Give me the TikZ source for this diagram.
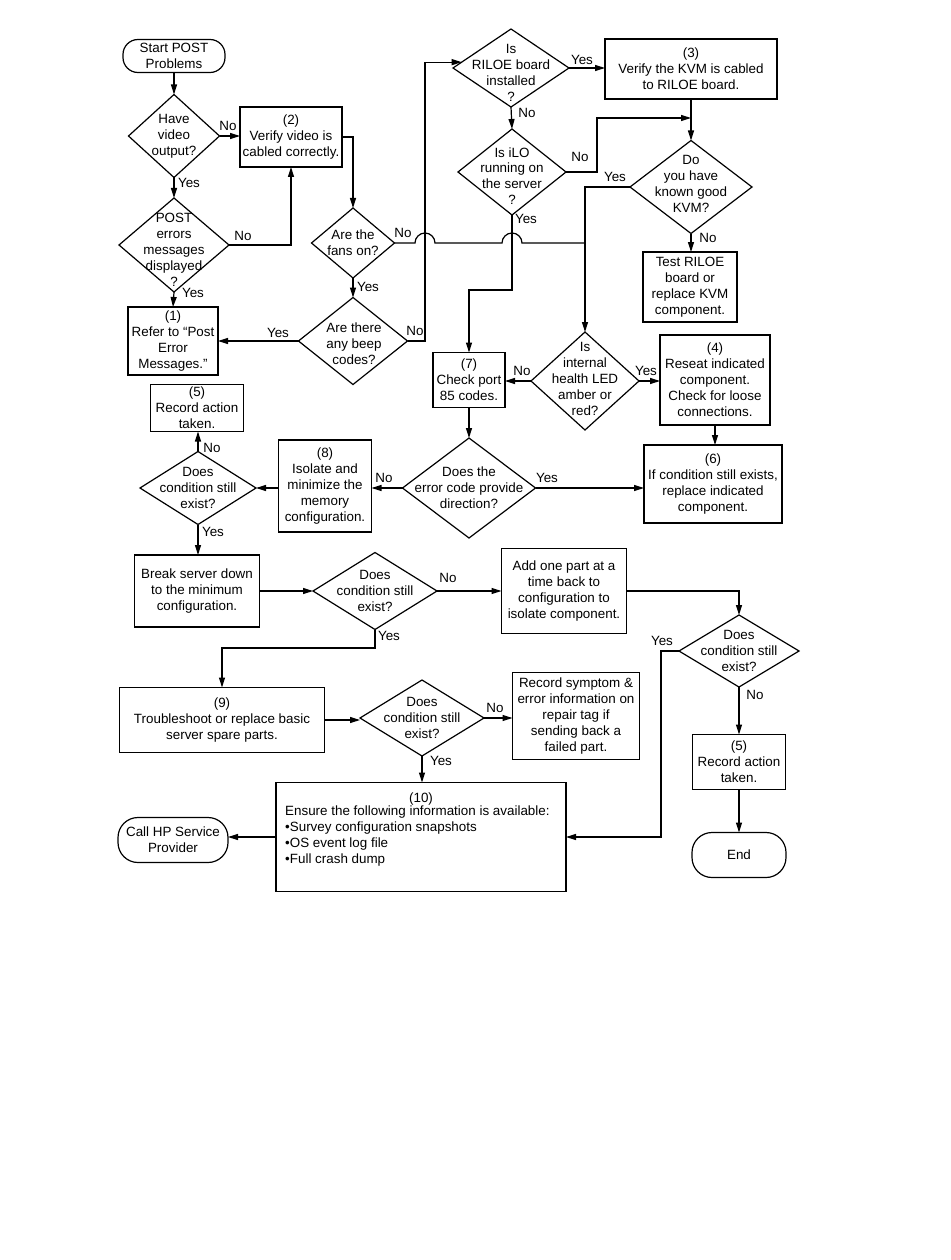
\documentclass[tikz,border=0pt]{standalone}
\usepackage{fontspec}
\setmainfont{Liberation Sans}
\usetikzlibrary{shapes.geometric,arrows.meta,calc}
\begin{document}
\begin{tikzpicture}[x=1pt,y=-1pt,
  font=\fontsize{13.4}{15.9}\selectfont,
  ln/.style={line width=1.2pt, draw=black},
  arr/.style={ln, -{Triangle[length=10pt,width=6pt]}},
  box/.style={draw, rectangle, line width=1.2pt, align=center, inner sep=1pt, outer sep=0pt},
  term/.style={draw, rectangle, line width=1.2pt, align=center, inner sep=1pt, outer sep=0pt},
  dia/.style={draw, diamond, line width=1.2pt, inner sep=0pt, outer sep=0pt},
  txt/.style={align=center, inner sep=0pt},
  lab/.style={inner sep=0pt}]
\fill[white] (0,0) rectangle (950,1260);
\useasboundingbox (0,0) rectangle (950,1260);

% ---- nodes ----
\node[term, rounded corners=15pt, minimum width=102pt, minimum height=33pt] (start) at (174,56) {Start POST\\Problems};
\node[dia, minimum width=91pt, minimum height=83pt] (d1) at (174,136) {};
\node[txt] (d1t) at (174,136) {Have\\video\\output?};
\node[box, minimum width=102pt, minimum height=60pt] (b2) at (291,137) {(2)\\Verify video is\\cabled correctly.};
\node[dia, minimum width=110pt, minimum height=94pt] (d2) at (174,245) {};
\node[txt] (d2t) at (174,250) {POST\\errors\\messages\\displayed\\?};
\node[box, minimum width=90pt, minimum height=68pt] (b1) at (173,341) {(1)\\Refer to “Post\\Error\\Messages.”};
\node[dia, minimum width=83pt, minimum height=70pt] (fans) at (353,243) {};
\node[txt] (fanst) at (353,243) {Are the\\fans on?};
\node[dia, minimum width=109pt, minimum height=87pt] (beep) at (353,341) {};
\node[txt] (beept) at (354,344) {Are there\\any beep\\codes?};
\node[dia, minimum width=116pt, minimum height=78pt] (riloe) at (511,68) {};
\node[txt] (riloet) at (511,73) {Is\\RILOE board\\installed\\?};
\node[box, minimum width=172pt, minimum height=60pt] (b3) at (691,69) {(3)\\Verify the KVM is cabled\\to RILOE board.};
\node[dia, minimum width=108pt, minimum height=86pt] (ilo) at (512,172) {};
\node[txt] (ilot) at (512,176) {Is iLO\\running on\\the server\\?};
\node[dia, minimum width=122pt, minimum height=93pt] (kvm) at (691,187) {};
\node[txt] (kvmt) at (691,184) {Do\\you have\\known good\\KVM?};
\node[box, minimum width=94pt, minimum height=70pt] (test) at (690,287) {Test RILOE\\board or\\replace KVM\\component.};
\node[dia, minimum width=108pt, minimum height=98pt] (led) at (585,381) {};
\node[txt] (ledt) at (585,379) {Is\\internal\\health LED\\amber or\\red?};
\node[box, minimum width=72pt, minimum height=55pt] (b7) at (469,380) {(7)\\Check port\\85 codes.};
\node[box, minimum width=110pt, minimum height=90pt] (b4) at (715,380) {(4)\\Reseat indicated\\component.\\Check for loose\\connections.};
\node[box, minimum width=138pt, minimum height=78pt] (b6) at (713,484) {(6)\\If condition still exists,\\replace indicated\\component.};
\node[dia, minimum width=133pt, minimum height=100pt] (err) at (469,488) {};
\node[txt] (errt) at (469,488) {Does the\\error code provide\\direction?};
\node[box, minimum width=93pt, minimum height=92pt] (b8) at (325,486) {(8)\\Isolate and\\minimize the\\memory\\configuration.};
\node[dia, minimum width=116pt, minimum height=73pt] (dA) at (198,488) {};
\node[txt] (dAt) at (198,488) {Does\\condition still\\exist?};
\node[box, minimum width=93pt, minimum height=47pt] (b5a) at (197,408) {(5)\\Record action\\taken.};
\node[box, minimum width=125pt, minimum height=72pt] (brk) at (197,591) {Break server down\\to the minimum\\configuration.};
\node[dia, minimum width=124pt, minimum height=77pt] (dB) at (375,591) {};
\node[txt] (dBt) at (375,591) {Does\\condition still\\exist?};
\node[box, minimum width=125pt, minimum height=85pt] (add) at (564,591) {Add one part at a\\time back to\\configuration to\\isolate component.};
\node[dia, minimum width=120pt, minimum height=72pt] (dC) at (739,651) {};
\node[txt] (dCt) at (739,651) {Does\\condition still\\exist?};
\node[box, minimum width=93pt, minimum height=55pt] (b5b) at (739,762) {(5)\\Record action\\taken.};
\node[term, rounded corners=20pt, minimum width=94pt, minimum height=45pt] (end) at (739,855) {End};
\node[box, minimum width=205pt, minimum height=65pt] (b9) at (222,720) {(9)\\Troubleshoot or replace basic\\server spare parts.};
\node[dia, minimum width=124pt, minimum height=76pt] (dD) at (422,718) {};
\node[txt] (dDt) at (422,718) {Does\\condition still\\exist?};
\node[box, minimum width=127pt, minimum height=87pt] (rec) at (576,716) {Record symptom \&\\error information on\\repair tag if\\sending back a\\failed part.};
\node[box, minimum width=290pt, minimum height=109pt] (b10) at (421,837) {};
\node[txt] (b10a) at (421,799) {(10)};
\node[txt, align=left, anchor=north west] (b10b) at (285,806) {Ensure the following information is available:\\•Survey configuration snapshots\\•OS event log file\\•Full crash dump};
\node[term, rounded corners=20pt, minimum width=110pt, minimum height=45pt] (call) at (173,840) {Call HP Service\\Provider};

\coordinate (j1) at (691,118);

% ---- connectors ----
\draw[arr] (start.south) -- (d1.north);
\draw[arr] (d1.east) -- (d1.east -| b2.west);
\draw[arr] (d1.south) -- (d2.north);
\draw[arr] (d2.east) -| (b2.south);
\draw[arr] (d2.south) -- (b1.north);
\draw[arr] (b2.east) -| (fans.north);
\draw[arr] (fans.south) -- (beep.north);
\draw[arr] (beep.west) -- (b1.east);
\draw[arr] (beep.east) -- (425,341) |- ($(riloe.west)!0.15!(riloe.north)$);
\draw[arr] (riloe.east) -- (riloe.east -| b3.west);
\draw[arr] (riloe.south) -- (ilo.north);
\draw[arr] (ilo.east) -- (597,172) |- (j1);
\draw[arr] (b3.south) -- (kvm.north);
\draw[arr] (kvm.south) -- (kvm.south |- test.north);
\draw[arr] (kvm.west) -| (led.north);
\draw[ln] (fans.east) -- (415,243)
  .. controls (415,237.5) and (419.5,233) .. (425,233)
  .. controls (430.5,233) and (435,237.5) .. (435,243) -- (502,243)
  .. controls (502,237.5) and (506.5,233) .. (512,233)
  .. controls (517.5,233) and (522,237.5) .. (522,243) -- (585,243);
\draw[arr] (ilo.south) -- (512,290) -| (b7.north);
\draw[arr] (led.west) -- (led.west -| b7.east);
\draw[arr] (led.east) -- (led.east -| b4.west);
\draw[arr] (b4.south) -- (b4.south |- b6.north);
\draw[arr] (b7.south) -- (err.north);
\draw[arr] (err.east) -- (err.east -| b6.west);
\draw[arr] (err.west) -- (err.west -| b8.east);
\draw[arr] (b8.west |- dA.east) -- (dA.east);
\draw[arr] (dA.north) -- (dA.north |- b5a.south);
\draw[arr] (dA.south) -- (dA.south |- brk.north);
\draw[arr] (brk.east) -- (dB.west);
\draw[arr] (dB.east) -- (add.west);
\draw[arr] (add.east) -| (dC.north);
\draw[arr] (dC.south) -- (b5b.north);
\draw[arr] (b5b.south) -- (end.north);
\draw[arr] (dB.south) -- (375,648) -| (b9.north);
\draw[arr] (b9.east) -- (b9.east -| dD.west);
\draw[arr] (dD.east) -- (dD.east -| rec.west);
\draw[arr] (dD.south) -- (dD.south |- b10.north);
\draw[arr] (b10.west) -- (b10.west -| call.east);
\draw[arr] (dC.west) -- (661,651) |- (b10.east);

% ---- labels ----
\node[lab] (l1) at (228,126) {No};
\node[lab] (l2) at (189,183) {Yes};
\node[lab] (l3) at (243,236) {No};
\node[lab] (l4) at (193,293) {Yes};
\node[lab] (l5) at (403,233) {No};
\node[lab] (l6) at (368,287) {Yes};
\node[lab] (l7) at (278,333) {Yes};
\node[lab] (l8) at (415,331) {No};
\node[lab] (l9) at (582,60) {Yes};
\node[lab] (l10) at (527,113) {No};
\node[lab] (l11) at (580,157) {No};
\node[lab] (l12) at (526,219) {Yes};
\node[lab] (l13) at (615,177) {Yes};
\node[lab] (l14) at (708,238) {No};
\node[lab] (l15) at (522,371) {No};
\node[lab] (l16) at (646,371) {Yes};
\node[lab] (l17) at (547,478) {Yes};
\node[lab] (l18) at (384,478) {No};
\node[lab] (l19) at (212,448) {No};
\node[lab] (l20) at (213,532) {Yes};
\node[lab] (l21) at (448,578) {No};
\node[lab] (l22) at (389,636) {Yes};
\node[lab] (l23) at (662,641) {Yes};
\node[lab] (l24) at (755,695) {No};
\node[lab] (l25) at (495,708) {No};
\node[lab] (l26) at (441,761) {Yes};
\end{tikzpicture}
\end{document}
